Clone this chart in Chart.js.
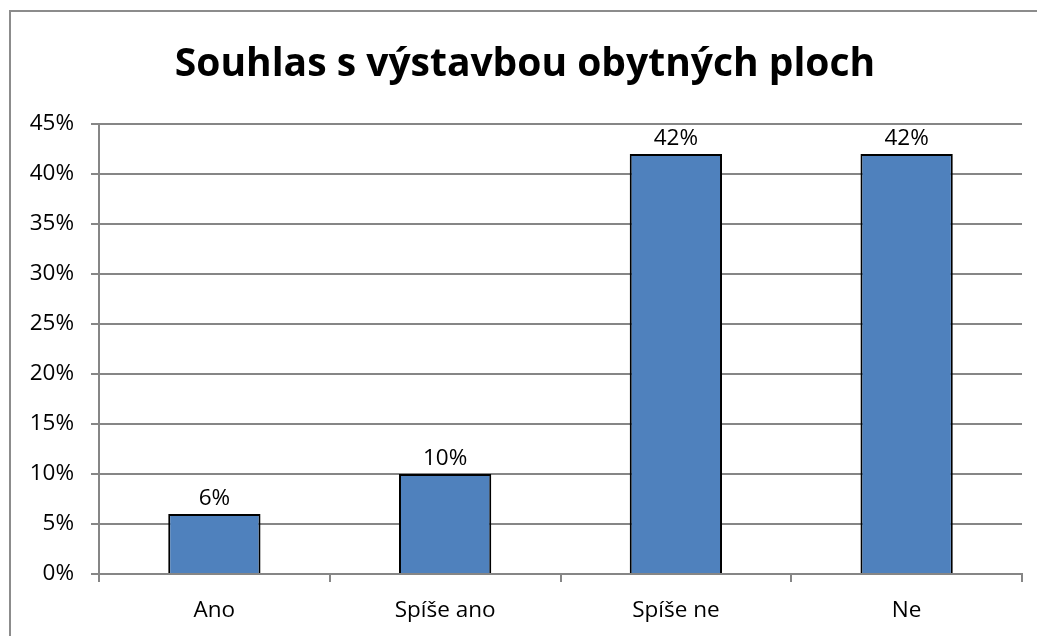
<!DOCTYPE html>
<html>
<head>
<meta charset="utf-8">
<script src="https://cdn.jsdelivr.net/npm/chart.js@4/dist/chart.umd.min.js"></script>
<style>
  html, body { margin: 0; padding: 0; background: #fff; }
  #wrap { width: 1037px; height: 636px; position: relative; }
</style>
</head>
<body>
<div id="wrap"><canvas id="myChart" width="1037" height="636"></canvas></div>
<script>
const categories = ["Ano", "Spíše ano", "Spíše ne", "Ne"];
const values = [6, 10, 42, 42];
const titleText = "Souhlas s výstavbou obytných ploch";

const fontFamily = "'Open Sans', 'Liberation Sans', sans-serif";
const gridColor = "#868686";

// frame around the chart plus the title, drawn by hand so it can sit off-centre
const framePlugin = {
  id: "frame",
  beforeDraw(chart) {
    const ctx = chart.ctx;
    ctx.save();
    ctx.fillStyle = "#fff";
    ctx.fillRect(0, 0, chart.width, chart.height);
    ctx.strokeStyle = "#8c8c8c";
    ctx.lineWidth = 2;
    ctx.strokeRect(10, 11, chart.width + 20, chart.height + 20);

    ctx.fillStyle = "#000";
    ctx.font = "bold 39px " + fontFamily;
    ctx.textAlign = "center";
    ctx.textBaseline = "alphabetic";
    ctx.fillText(titleText, 525, 76);
    ctx.restore();
  },
};

// value labels above bars
const labelPlugin = {
  id: "barLabels",
  afterDatasetsDraw(chart) {
    const ctx = chart.ctx;
    const meta = chart.getDatasetMeta(0);
    ctx.save();
    ctx.font = "22.5px " + fontFamily;
    ctx.fillStyle = "#000";
    ctx.textAlign = "center";
    ctx.textBaseline = "alphabetic";
    meta.data.forEach((bar, i) => {
      ctx.fillText(values[i] + "%", bar.x, bar.y - 9);
    });
    ctx.restore();
  },
};

new Chart("myChart", {
  type: "bar",
  data: {
    labels: categories,
    datasets: [
      {
        data: values,
        backgroundColor: "#4F81BD",
        borderColor: "#000",
        borderWidth: 2,
        barPercentage: 0.4,
        categoryPercentage: 1,
      },
    ],
  },
  options: {
    responsive: false,
    animation: false,
    layout: { padding: { left: 0, right: 15, top: 124, bottom: 0 } },
    plugins: {
      legend: { display: false },
      tooltip: { enabled: false },
      title: { display: false },
    },
    scales: {
      x: {
        offset: true,
        grid: {
          offset: true,
          drawOnChartArea: false,
          drawTicks: true,
          tickLength: 8,
          color: gridColor,
          lineWidth: 2,
        },
        border: { display: true, color: gridColor, width: 2 },
        ticks: {
          color: "#000",
          font: { family: fontFamily, size: 22.5 },
          padding: 15,
        },
        afterFit(scale) {
          scale.height = 62;
        },
      },
      y: {
        min: 0,
        max: 45,
        grid: {
          color: gridColor,
          lineWidth: 2,
          tickLength: 8,
        },
        border: { display: true, color: gridColor, width: 2 },
        ticks: {
          stepSize: 5,
          color: "#000",
          font: { family: fontFamily, size: 22.5 },
          padding: 17,
          callback: (v) => v + "%",
        },
        afterFit(scale) {
          scale.width = 99;
        },
      },
    },
  },
  plugins: [framePlugin, labelPlugin],
});
</script>
</body>
</html>
